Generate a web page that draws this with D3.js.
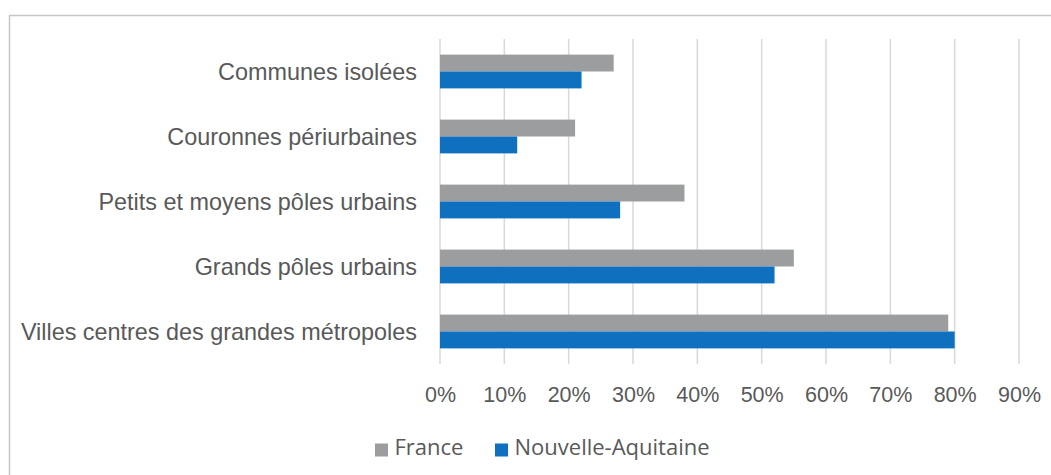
<!DOCTYPE html>
<html><head><meta charset="utf-8">
<script src="https://cdn.jsdelivr.net/npm/d3@7"></script>
<style>html,body{margin:0;padding:0;background:#fff;overflow:hidden}</style>
</head><body><svg id="c" width="1051" height="475"></svg>
<script>
const categories = ["Communes isolées","Couronnes périurbaines","Petits et moyens pôles urbains","Grands pôles urbains","Villes centres des grandes métropoles"];
const seriesNames = ["France","Nouvelle-Aquitaine"];
const franceValues = [27,21,38,55,79];
const naValues = [22,12,28,52,80];
const tickValues = [0,10,20,30,40,50,60,70,80,90];
const colors = ["#9C9D9E","#0E70BE"];

const svg = d3.select("#c");
const font = "'Liberation Sans', Arial, sans-serif";
const legFont = "'Open Sans', sans-serif";
svg.append("rect").attr("x",9.5).attr("y",15.5).attr("width",1200).attr("height",600)
  .attr("fill","none").attr("stroke","#C6C6C6").attr("stroke-width",1.5);

const x = d3.scaleLinear().domain([0,90]).range([440,1019]);
const y = d3.scaleBand().domain(categories).range([39,364]).paddingInner(0.48).paddingOuter(0.24);
const ySub = d3.scaleBand().domain(seriesNames).range([0,y.bandwidth()]);

const grid = svg.append("g");
grid.selectAll("line").data(tickValues).join("line")
  .attr("x1",d=>x(d)).attr("x2",d=>x(d)).attr("y1",39).attr("y2",364)
  .attr("stroke","#D9D9D9").attr("stroke-width",1.5);

const data = categories.map((c,i)=>({cat:c, vals:[franceValues[i], naValues[i]]}));
const g = svg.append("g");
data.forEach(d=>{
  d.vals.forEach((v,j)=>{
    g.append("rect").attr("x",x(0)).attr("y",y(d.cat)+ySub(seriesNames[j]))
      .attr("width",x(v)-x(0)).attr("height",ySub.bandwidth()).attr("fill",colors[j]);
  });
});

const yAxis = d3.axisLeft(y).tickSize(0).tickPadding(0);
const ya = svg.append("g").attr("transform","translate(417,0)").call(yAxis);
ya.select(".domain").remove();
ya.selectAll("text").attr("font-family",font).attr("font-size",23.4).attr("fill","#595959").attr("dy","0.35em");

const xAxis = d3.axisBottom(x).tickValues(tickValues).tickFormat(d=>d+"%").tickSize(0).tickPadding(0);
const xa = svg.append("g").attr("transform","translate(0,402)").call(xAxis);
xa.select(".domain").remove();
xa.selectAll("text").attr("font-family",font).attr("font-size",21.5).attr("fill","#595959").attr("y",0).attr("dy","0");

const leg = svg.append("g");
const legX = [375,495];
seriesNames.forEach((s,j)=>{
  leg.append("rect").attr("x",legX[j]).attr("y",443.5).attr("width",13).attr("height",13).attr("fill",colors[j]);
  leg.append("text").attr("x",legX[j]+19.5).attr("y",455)
    .attr("font-family",legFont).attr("font-size",22).attr("fill","#595959").text(s);
});
</script></body></html>
